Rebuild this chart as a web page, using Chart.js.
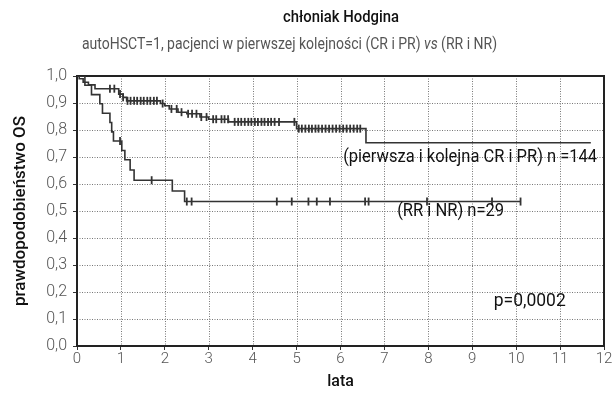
<!DOCTYPE html>
<html>
<head>
<meta charset="utf-8">
<script src="https://cdn.jsdelivr.net/npm/chart.js@4.4.1/dist/chart.umd.min.js"></script>
<style>
    html, body { margin: 0; padding: 0; background: #fff; }
    #wrap { width: 613px; height: 400px; }
</style>
</head>
<body>
<div id="wrap"><canvas id="km"></canvas></div>
<script>
// Kaplan-Meier: czas (lata) i przezycie po kazdym kroku
const crprTime = [0, 0.05, 0.14, 0.26, 0.41, 0.95, 1.05, 1.13, 1.9, 2.0, 2.1, 2.3, 2.5, 2.8, 3.0, 3.45, 5.0, 6.58, 11.7];
const crprSurv = [1.0, 0.99, 0.977, 0.967, 0.953, 0.933, 0.921, 0.908, 0.898, 0.89, 0.878, 0.866, 0.86, 0.848, 0.84, 0.83, 0.805, 0.753, 0.753];
const crprCensored = [0.75, 0.85, 0.98, 1.05, 1.15, 1.22, 1.3, 1.37, 1.45, 1.52, 1.6, 1.67, 1.75, 1.82, 1.95,
    2.15, 2.27, 2.38, 2.53, 2.62, 2.72, 2.83, 2.95, 3.1, 3.17, 3.29, 3.36, 3.44, 3.59, 3.67, 3.74, 3.82,
    3.9, 3.97, 4.05, 4.12, 4.2, 4.27, 4.35, 4.42, 4.5, 4.6, 4.95, 5.05, 5.12, 5.2, 5.28, 5.35, 5.43, 5.5,
    5.58, 5.66, 5.74, 5.82, 5.9, 5.98, 6.06, 6.14, 6.22, 6.3, 6.38, 6.45];

const rrnrTime = [0, 0.18, 0.33, 0.52, 0.58, 0.75, 0.79, 0.83, 1.02, 1.09, 1.21, 1.3, 2.17, 2.45, 10.1];
const rrnrSurv = [1.0, 0.966, 0.931, 0.897, 0.862, 0.828, 0.793, 0.759, 0.724, 0.690, 0.652, 0.614, 0.574, 0.535, 0.535];
const rrnrCensored = [0.98, 1.7, 2.5, 2.61, 4.55, 4.89, 5.27, 5.46, 5.76, 6.56, 6.64, 7.97, 9.45, 10.1];

const xTicks = [0, 1, 2, 3, 4, 5, 6, 7, 8, 9, 10, 11, 12];
const yTicks = [0, 0.1, 0.2, 0.3, 0.4, 0.5, 0.6, 0.7, 0.8, 0.9, 1.0];

const titleText = 'chłoniak Hodgina';
const subtitleText = 'autoHSCT=1, pacjenci w pierwszej kolejności (CR i PR) vs (RR i NR)';
const noteTexts = ['(pierwsza i kolejna CR i PR) n =144', '(RR i NR) n=29', 'p=0,0002'];
const noteX = [6.06, 7.29, 9.49];
const noteY = [0.70, 0.50, 0.163];

const FONT = '"Roboto", "Liberation Sans", sans-serif';
const LINE = '#333';
const noteWidths = [254, 107, 72];

function toPoints(times, surv) {
    return times.map((t, i) => ({x: t, y: surv[i]}));
}

// wartosc krzywej schodkowej w chwili t (znaczniki cenzurowania)
function survAt(times, surv, t) {
    let v = surv[0];
    for (let i = 0; i < times.length; ++i) {
        if (times[i] <= t) v = surv[i];
    }
    return v;
}

function censorPoints(times, surv, cens) {
    return cens.map((t) => ({x: t, y: survAt(times, surv, t)}));
}

// tekst zwezony do zadanej szerokosci (krój w oryginale jest waski)
function fitText(ctx, text, x, y, align, width) {
    const sx = width / ctx.measureText(text).width;
    const left = align === 'center' ? x - width / 2 : x;
    ctx.save();
    ctx.translate(left, y);
    ctx.scale(sx, 1);
    ctx.textAlign = 'left';
    ctx.fillText(text, 0, 0);
    ctx.restore();
}

const curve = (data) => ({
    type: 'line',
    data: data,
    stepped: 'before',
    borderColor: LINE,
    borderWidth: 1.6,
    pointRadius: 0,
    fill: false,
});
const marks = (data) => ({
    type: 'scatter',
    data: data,
    pointStyle: 'line',
    rotation: 90,
    pointRadius: 4,
    borderColor: LINE,
    borderWidth: 1.8,
});

const frameAndText = {
    id: 'frameAndText',
    beforeDatasetsDraw(chart) {
        const {ctx, chartArea: a, scales} = chart;
        ctx.save();
        ctx.strokeStyle = '#777';
        ctx.lineWidth = 1;
        ctx.setLineDash([1, 1.5]);
        ctx.beginPath();
        for (const v of xTicks) {
            const px = Math.round(scales.x.getPixelForValue(v)) + 0.5;
            ctx.moveTo(px, a.top);
            ctx.lineTo(px, a.bottom);
        }
        for (const v of yTicks) {
            const py = Math.round(scales.y.getPixelForValue(v)) + 0.5;
            ctx.moveTo(a.left, py);
            ctx.lineTo(a.right, py);
        }
        ctx.stroke();
        ctx.setLineDash([]);
        ctx.strokeStyle = '#222';
        ctx.lineWidth = 2;
        ctx.strokeRect(a.left, a.top, a.right - a.left, a.bottom - a.top);
        ctx.restore();
    },
    afterDraw(chart) {
        const {ctx, scales} = chart;
        ctx.save();
        ctx.textBaseline = 'middle';
        ctx.fillStyle = '#111';
        ctx.font = '500 16px ' + FONT;
        fitText(ctx, titleText, 341, 18, 'center', 116);

        // podtytul z kursywa "vs"
        ctx.fillStyle = '#555';
        const parts = subtitleText.split(' vs ');
        ctx.font = '16px ' + FONT;
        const w1 = ctx.measureText(parts[0] + ' ').width;
        const w3 = ctx.measureText(' ' + parts[1]).width;
        ctx.font = 'italic 16px ' + FONT;
        const w2 = ctx.measureText('vs').width;
        const sx = 415 / (w1 + w2 + w3);
        const x0 = 82;
        ctx.font = '16px ' + FONT;
        fitText(ctx, parts[0] + ' ', x0, 45, 'left', w1 * sx);
        ctx.font = 'italic 16px ' + FONT;
        fitText(ctx, 'vs', x0 + w1 * sx, 45, 'left', w2 * sx);
        ctx.font = '16px ' + FONT;
        fitText(ctx, ' ' + parts[1], x0 + (w1 + w2) * sx, 45, 'left', w3 * sx);

        ctx.fillStyle = '#111';
        ctx.font = '18px ' + FONT;
        noteTexts.forEach((text, i) => {
            fitText(ctx, text, scales.x.getPixelForValue(noteX[i]), scales.y.getPixelForValue(noteY[i]),
                'left', noteWidths[i]);
        });
        ctx.restore();
    },
};

new Chart(document.getElementById('km'), {
    data: {
        datasets: [
            curve(toPoints(crprTime, crprSurv)),
            marks(censorPoints(crprTime, crprSurv, crprCensored)),
            curve(toPoints(rrnrTime, rrnrSurv)),
            marks(censorPoints(rrnrTime, rrnrSurv, rrnrCensored)),
        ],
    },
    options: {
        responsive: true,
        maintainAspectRatio: false,
        animation: false,
        layout: {padding: {top: 76, right: 9, left: 0, bottom: 0}},
        plugins: {
            legend: {display: false},
            tooltip: {enabled: false},
        },
        scales: {
            x: {
                type: 'linear',
                min: 0,
                max: 12,
                afterBuildTicks: (s) => { s.ticks = xTicks.map((v) => ({value: v})); },
                afterFit: (s) => { s.height = 54; },
                grid: {drawOnChartArea: false, tickLength: 4, tickColor: '#333'},
                border: {display: false},
                ticks: {color: '#555', padding: 0, font: {family: FONT, size: 15, weight: '300'}},
                title: {display: true, text: 'lata', color: '#111', padding: {top: 0, bottom: 8},
                    font: {family: FONT, size: 16, weight: '500'}},
            },
            y: {
                type: 'linear',
                min: 0,
                max: 1,
                afterBuildTicks: (s) => { s.ticks = yTicks.map((v) => ({value: v})); },
                afterFit: (s) => { s.width = 77; },
                grid: {drawOnChartArea: false, tickLength: 4, tickColor: '#333'},
                border: {display: false},
                ticks: {
                    color: '#555',
                    padding: 6,
                    font: {family: FONT, size: 16, weight: '300'},
                    callback: (v) => v.toFixed(1).replace('.', ','),
                },
                title: {display: true, text: 'prawdopodobieństwo OS', color: '#111', padding: {top: 11, bottom: 0},
                    font: {family: FONT, size: 17, weight: '500'}},
            },
        },
    },
    plugins: [frameAndText],
});
</script>
</body>
</html>
